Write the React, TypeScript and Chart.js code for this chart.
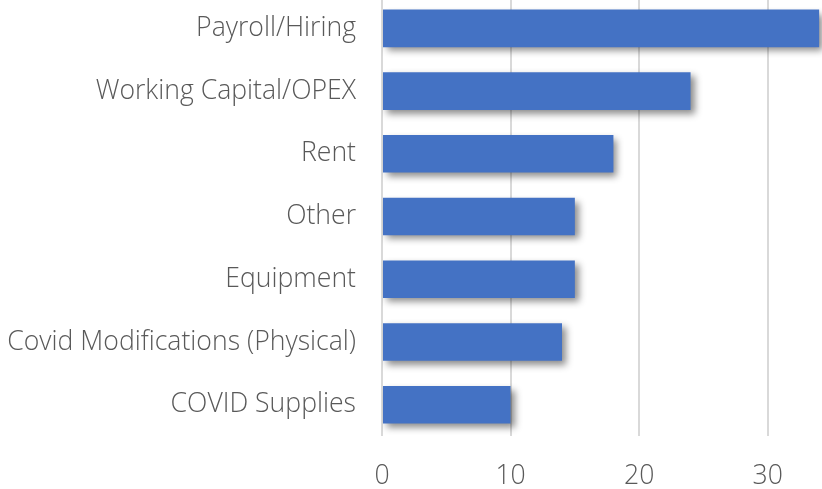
import React, { useEffect, useRef } from "react";
import { Chart, registerables } from "chart.js";

Chart.register(...registerables);

const categories = [
  "Payroll/Hiring",
  "Working Capital/OPEX",
  "Rent",
  "Other",
  "Equipment",
  "Covid Modifications (Physical)",
  "COVID Supplies",
];
const values = [34, 24, 18, 15, 15, 14, 10];
const xTicks = [0, 10, 20, 30];

const FONT = "'Open Sans', sans-serif";
const TEXT = "#595959";

const shadowPlugin = {
  id: "barShadow",
  beforeDatasetsDraw(chart: any) {
    const ctx = chart.ctx;
    ctx.save();
    ctx.shadowColor = "rgba(0,0,0,0.45)";
    ctx.shadowBlur = 7;
    ctx.shadowOffsetX = 4;
    ctx.shadowOffsetY = 4;
  },
  afterDatasetsDraw(chart: any) {
    chart.ctx.restore();
  },
};

export default function App() {
  const ref = useRef<HTMLCanvasElement>(null);
  useEffect(() => {
    if (!ref.current) return;
    const chart = new Chart(ref.current, {
      type: "bar",
      data: {
        labels: categories,
        datasets: [
          {
            data: values,
            backgroundColor: "#4472C4",
            borderWidth: 0,
            categoryPercentage: 0.6,
            barPercentage: 1,
          },
        ],
      },
      plugins: [shadowPlugin],
      options: {
        indexAxis: "y",
        animation: false,
        responsive: false,
        maintainAspectRatio: false,
        layout: { padding: 0 },
        plugins: { legend: { display: false }, tooltip: { enabled: false } },
        scales: {
          x: {
            min: 0,
            max: 35,
            ticks: {
              stepSize: 10,
              color: TEXT,
              font: { family: FONT, size: 26.6, weight: 300 },
              padding: 24,
            },
            afterBuildTicks(scale: any) {
              scale.ticks = xTicks.map((v) => ({ value: v }));
            },
            grid: { color: "#d9d9d9", lineWidth: 2, drawTicks: false },
            border: { display: false },
          },
          y: {
            ticks: {
              color: TEXT,
              font: { family: FONT, size: 26.6, weight: 300 },
              padding: 26,
            },
            afterFit(scale: any) {
              scale.width = 382;
            },
            grid: { display: false, drawTicks: false },
            border: { display: false },
          },
        },
      },
    });
    return () => chart.destroy();
  }, []);
  return (
    <div
      style={{
        position: "fixed",
        left: 0,
        top: 0,
        width: 822,
        height: 489,
        overflow: "hidden",
        background: "#fff",
      }}
    >
      <canvas
        ref={ref}
        width={832}
        height={561}
        style={{ position: "absolute", left: 0, top: -45, width: 832, height: 561 }}
      />
    </div>
  );
}
